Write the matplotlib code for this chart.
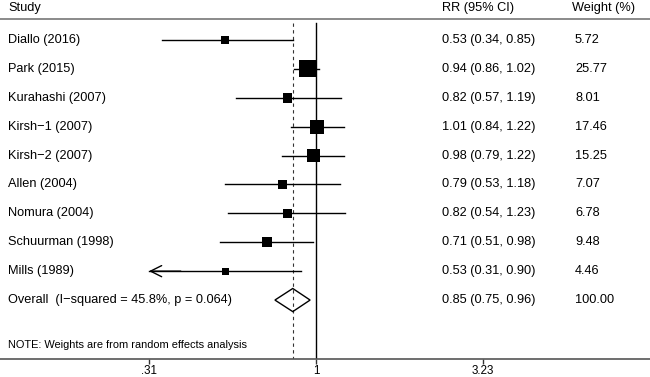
import numpy as np
import matplotlib
matplotlib.use("Agg")
import matplotlib.pyplot as plt
from matplotlib.patches import Polygon

plt.rcParams['font.family'] = ['Liberation Sans', 'DejaVu Sans']

studies = ["Diallo (2016)", "Park (2015)", "Kurahashi (2007)", "Kirsh\u22121 (2007)",
           "Kirsh\u22122 (2007)", "Allen (2004)", "Nomura (2004)", "Schuurman (1998)", "Mills (1989)"]
rr = [0.53, 0.94, 0.82, 1.01, 0.98, 0.79, 0.82, 0.71, 0.53]
lo = [0.34, 0.86, 0.57, 0.84, 0.79, 0.53, 0.54, 0.51, 0.31]
hi = [0.85, 1.02, 1.19, 1.22, 1.22, 1.18, 1.23, 0.98, 0.90]
weights = [5.72, 25.77, 8.01, 17.46, 15.25, 7.07, 6.78, 9.48, 4.46]
overall_label = "Overall  (I\u2212squared = 45.8%, p = 0.064)"
overall = [0.85, 0.75, 0.96]
overall_weight = 100.00
xticks = [0.31, 1, 3.23]
xticklabels = [".31", "1", "3.23"]
note = "NOTE: Weights are from random effects analysis"

W, H = 650, 377
fig = plt.figure(figsize=(W / 100, H / 100), dpi=100)
ax = fig.add_axes([0, 18 / H, 1, 1 - 18 / H])

ax.set_xscale('log')
ax.set_xlim(0.109, 10.42)
ax.set_ylim(12.04, -0.384)

for s in ['top', 'left', 'right']:
    ax.spines[s].set_visible(False)
ax.spines['bottom'].set_color('#555555')
ax.spines['bottom'].set_linewidth(1.2)
ax.set_yticks([])
ax.set_xticks(xticks)
ax.set_xticklabels(xticklabels)
ax.xaxis.set_minor_locator(matplotlib.ticker.NullLocator())
ax.tick_params(axis='x', direction='out', length=3.5, width=1, color='#333333',
               labelsize=8.4, pad=0.5)

n = len(studies)
rows = np.arange(1, n + 1)
xmin_plot = xticks[0]

# header line
ax.axhline(0.27, color='#777777', lw=1.2)
# reference lines
ax.plot([1, 1], [0.4, 12.04], color='black', lw=1.0)
ax.plot([overall[0]] * 2, [0.4, 12.04], color='#333333', lw=0.8, ls=(0, (3, 3)))

tx = ax.get_yaxis_transform()  # x in axes fraction, y data
fs = 9.2
x_study, x_rr, x_w = 8 / W, 442 / W, 575 / W
yh = -0.12
ax.text(x_study, yh, "Study", transform=tx, fontsize=fs, va='center', ha='left')
ax.text(x_rr, yh, "RR (95% CI)", transform=tx, fontsize=fs, va='center', ha='left')
ax.text(572 / W, yh, "Weight (%)", transform=tx, fontsize=fs, va='center', ha='left')

maxw = max(weights)
for i in range(n):
    y = rows[i]
    l = max(lo[i], xmin_plot)
    if lo[i] <= xmin_plot:
        ax.plot([l, hi[i]], [y, y], color='black', lw=1.0)
        ax.annotate("", xy=(l, y), xytext=(l * 1.25, y),
                    arrowprops=dict(arrowstyle='->', color='black', lw=1.0,
                                    mutation_scale=20, shrinkA=0, shrinkB=0))
    else:
        ax.plot([lo[i], hi[i]], [y, y], color='black', lw=1.0)
    ax.scatter([rr[i]], [y], marker='s', s=150 * weights[i] / maxw, color='black',
               edgecolors='none', zorder=3)
    ax.text(x_study, y, studies[i], transform=tx, fontsize=fs, va='center', ha='left')
    ax.text(x_rr, y, f"{rr[i]:.2f} ({lo[i]:.2f}, {hi[i]:.2f})", transform=tx,
            fontsize=fs, va='center', ha='left')
    ax.text(x_w, y, f"{weights[i]:.2f}", transform=tx, fontsize=fs, va='center', ha='left')

yo = n + 1
dh = 0.40
diamond = Polygon([(overall[1], yo), (overall[0], yo - dh), (overall[2], yo), (overall[0], yo + dh)],
                  closed=True, fill=False, edgecolor='black', lw=1.0, zorder=3)
ax.add_patch(diamond)
ax.text(x_study, yo, overall_label, transform=tx, fontsize=fs, va='center', ha='left')
ax.text(x_rr, yo, f"{overall[0]:.2f} ({overall[1]:.2f}, {overall[2]:.2f})", transform=tx,
        fontsize=fs, va='center', ha='left')
ax.text(x_w, yo, f"{overall_weight:.2f}", transform=tx, fontsize=fs, va='center', ha='left')

ax.text(x_study, 11.55, note, transform=tx, fontsize=7.9, va='center', ha='left')

fig.savefig("out.png", dpi=100)
